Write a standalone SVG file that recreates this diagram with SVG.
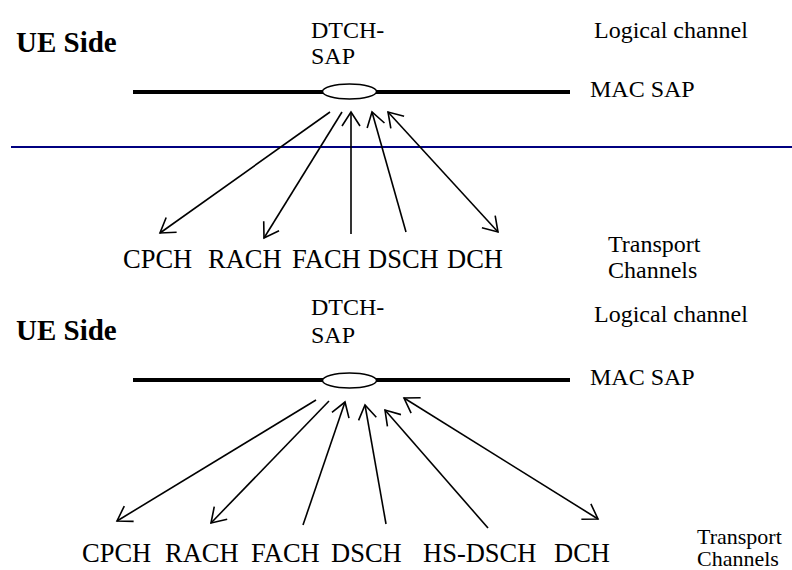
<svg xmlns="http://www.w3.org/2000/svg" width="792" height="570" viewBox="0 0 792 570">
<style>
text{font-family:"Liberation Serif","Times New Roman",serif;fill:#000}
.t{font-size:24px}
.s{font-size:22px}
.b{font-size:29px;font-weight:bold}
.l{font-size:26.5px}
.bar{stroke:#000;stroke-width:4;fill:none}
.sap{stroke:#000;stroke-width:1.5;fill:#fff}
.a{stroke:#000;stroke-width:1.6;fill:none}
</style>
<defs>
<marker id="ah" viewBox="0 0 20 20" refX="18" refY="10" markerWidth="20" markerHeight="20" markerUnits="userSpaceOnUse" orient="auto-start-reverse">
<path d="M4,1 L18,10 L4,19" fill="none" stroke="#000" stroke-width="1.6"/>
</marker>
</defs>
<rect width="792" height="570" fill="#fff"/>
<line x1="11" y1="147" x2="792" y2="147" stroke="#000080" stroke-width="2"/>

<g id="top">
<g id="top-ue"><text class="b" x="16" y="52">UE Side</text></g>
<g id="top-dtch"><text class="t" x="311" y="38">DTCH-</text><text class="t" x="311" y="64">SAP</text></g>
<g id="top-logical"><text class="t" x="594" y="38">Logical channel</text></g>
<g id="top-mac"><line class="bar" x1="133" y1="92" x2="570" y2="92"/><ellipse class="sap" cx="349.5" cy="91.5" rx="27" ry="7.5"/><text class="t" x="590" y="97">MAC SAP</text></g>
<g id="top-cpch"><text class="l" x="123" y="268">CPCH</text></g>
<g id="top-rach"><text class="l" x="208" y="268">RACH</text></g>
<g id="top-fach"><text class="l" x="292" y="268">FACH</text></g>
<g id="top-dsch"><text class="l" x="368" y="268">DSCH</text></g>
<g id="top-dch"><text class="l" x="447" y="268">DCH</text></g>
<g id="top-transport"><text class="t" x="608" y="252">Transport</text><text class="t" x="608" y="278">Channels</text></g>
</g>

<g id="bottom">
<g id="bot-ue"><text class="b" x="16" y="340">UE Side</text></g>
<g id="bot-dtch"><text class="t" x="311" y="315">DTCH-</text><text class="t" x="311" y="343">SAP</text></g>
<g id="bot-logical"><text class="t" x="594" y="322">Logical channel</text></g>
<g id="bot-mac"><line class="bar" x1="133" y1="380" x2="570" y2="380"/><ellipse class="sap" cx="349.5" cy="380.5" rx="27" ry="7.5"/><text class="t" x="590" y="385">MAC SAP</text></g>
<g id="bot-cpch"><text class="l" x="82" y="562">CPCH</text></g>
<g id="bot-rach"><text class="l" x="165" y="562">RACH</text></g>
<g id="bot-fach"><text class="l" x="251" y="562">FACH</text></g>
<g id="bot-dsch"><text class="l" x="331" y="562">DSCH</text></g>
<g id="bot-hsdsch"><text class="l" x="423" y="562">HS-DSCH</text></g>
<g id="bot-dch"><text class="l" x="554" y="562">DCH</text></g>
<g id="bot-transport"><text class="s" x="697" y="544">Transport</text><text class="s" x="697" y="566">Channels</text></g>
</g>

<g id="connectors">
<line class="a" x1="330" y1="112" x2="160" y2="233" marker-end="url(#ah)"/>
<line class="a" x1="342" y1="112" x2="264" y2="238" marker-end="url(#ah)"/>
<line class="a" x1="351" y1="234" x2="351" y2="112" marker-end="url(#ah)"/>
<line class="a" x1="406" y1="232" x2="372" y2="112" marker-end="url(#ah)"/>
<line class="a" x1="388" y1="112" x2="498" y2="232" marker-start="url(#ah)" marker-end="url(#ah)"/>

<line class="a" x1="316" y1="400" x2="117" y2="521" marker-end="url(#ah)"/>
<line class="a" x1="329" y1="401" x2="211" y2="523" marker-end="url(#ah)"/>
<line class="a" x1="303" y1="525" x2="345" y2="402" marker-end="url(#ah)"/>
<line class="a" x1="386" y1="524" x2="365" y2="405" marker-end="url(#ah)"/>
<line class="a" x1="488" y1="528" x2="385" y2="410" marker-end="url(#ah)"/>
<line class="a" x1="404" y1="398" x2="598" y2="519" marker-start="url(#ah)" marker-end="url(#ah)"/>
</g>
</svg>
